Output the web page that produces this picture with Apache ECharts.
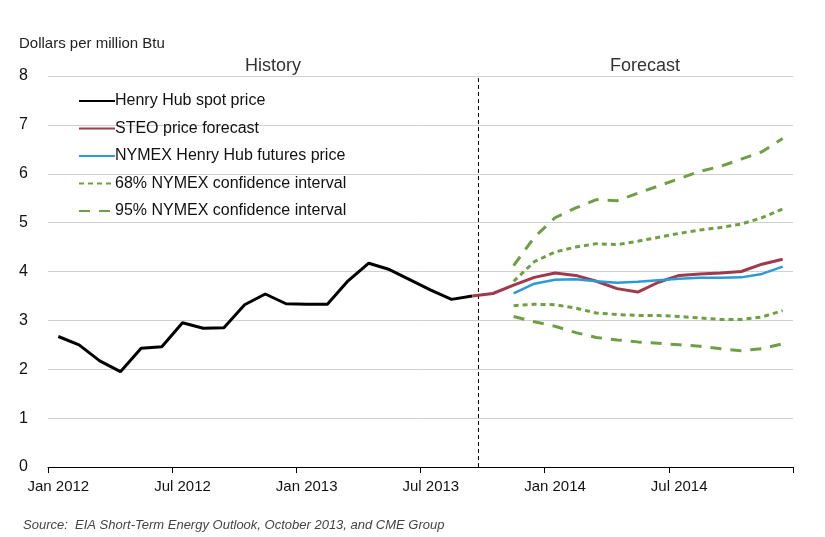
<!DOCTYPE html>
<html><head><meta charset="utf-8">
<script src="https://cdn.jsdelivr.net/npm/echarts@6/dist/echarts.min.js"></script>
<style>html,body{margin:0;background:#fff}#c{width:825px;height:537px}</style>
</head><body><div id="c"></div>
<script>
const months = [];
const mn = ['Jan','Feb','Mar','Apr','May','Jun','Jul','Aug','Sep','Oct','Nov','Dec'];
for (let y = 2012; y <= 2014; y++) for (let m = 0; m < 12; m++) months.push(mn[m] + ' ' + y);
const yTicks = [0,1,2,3,4,5,6,7,8];
const spot = [2.67,2.50,2.17,1.95,2.43,2.46,2.95,2.84,2.85,3.32,3.54,3.34,3.33,3.33,3.81,4.17,4.04,3.83,3.62,3.43,3.50];
const steo = [3.50,3.55,3.72,3.88,3.97,3.92,3.80,3.65,3.58,3.78,3.92,3.95,3.97,4.00,4.15,4.25];
const futures = [3.55,3.75,3.83,3.84,3.80,3.77,3.79,3.82,3.85,3.87,3.87,3.88,3.95,4.10];
const up68 = [3.80,4.20,4.40,4.50,4.57,4.55,4.62,4.70,4.78,4.85,4.90,4.97,5.10,5.28];
const lo68 = [3.30,3.33,3.32,3.25,3.15,3.12,3.10,3.10,3.08,3.05,3.02,3.02,3.07,3.20];
const up95 = [4.12,4.70,5.10,5.30,5.47,5.45,5.60,5.75,5.90,6.05,6.15,6.30,6.45,6.72];
const lo95 = [3.08,2.97,2.88,2.75,2.65,2.60,2.56,2.53,2.50,2.47,2.42,2.38,2.42,2.52];
const divider = [[20.8,0],[20.8,8]];

function pad(arr, start){ const o = new Array(months.length).fill('-'); arr.forEach((v,i)=>o[start+i]=v); return o; }
const GREEN = '#6f9f45';
const chart = echarts.init(document.getElementById('c'));
const line = (name, data, color, type, width) => ({name, type:'line', data, symbol:'none', xAxisIndex:0,
  lineStyle:{color, width, type}, itemStyle:{color}});
chart.setOption({
  animation:false,
  textStyle:{fontFamily:'Liberation Sans, Arial, sans-serif'},
  grid:{left:48, right:32, top:76, bottom:70},
  title:[
    {text:'Dollars per million Btu', left:14, top:31, textStyle:{fontSize:15, fontWeight:'normal', color:'#222'}},
    {text:'History', left:268, top:52, textAlign:'center', textStyle:{fontSize:18, fontWeight:'normal', color:'#333'}},
    {text:'Forecast', left:640, top:52, textAlign:'center', textStyle:{fontSize:18, fontWeight:'normal', color:'#333'}},
    {text:'Source:  EIA Short-Term Energy Outlook, October 2013, and CME Group', left:18, top:514, textStyle:{fontSize:13, fontWeight:'normal', fontStyle:'italic', color:'#444'}}
  ],
  legend:{orient:'vertical', left:73, top:88, itemGap:11.5, itemWidth:36, itemHeight:18,
    itemStyle:{opacity:0},
    textStyle:{fontSize:16, color:'#111', padding:[0,0,0,-5]},
    data:['Henry Hub spot price','STEO price forecast','NYMEX Henry Hub futures price','68% NYMEX confidence interval','95% NYMEX confidence interval']},
  xAxis:[
    {type:'category', data:months, boundaryGap:true,
     axisLine:{lineStyle:{color:'#000'}}, axisTick:{show:true, interval:5, length:6, lineStyle:{color:'#000'}},
     axisLabel:{interval:5, color:'#111', fontSize:15, margin:12}},
    {type:'value', min:0, max:36, show:false}
  ],
  yAxis:{type:'value', min:0, max:8, interval:1, axisLine:{show:false}, axisTick:{show:false},
    axisLabel:{color:'#111', fontSize:16, margin:20, formatter:v=>yTicks.includes(v)?String(v):''},
    splitLine:{lineStyle:{color:'#d0d0d0', width:1}}},
  series:[
    {type:'line', xAxisIndex:1, data:divider, symbol:'none', z:1,
     lineStyle:{color:'#000', type:[4,3], width:1}},
    line('Henry Hub spot price', pad(spot,0), '#000', 'solid', 3),
    line('STEO price forecast', pad(steo,20), '#9e3a4a', 'solid', 3),
    line('NYMEX Henry Hub futures price', pad(futures,22), '#2b9bd6', 'solid', 2.5),
    line('68% NYMEX confidence interval', pad(up68,22), GREEN, [5,4], 3),
    line('68% NYMEX confidence interval', pad(lo68,22), GREEN, [5,4], 3),
    line('95% NYMEX confidence interval', pad(up95,22), GREEN, [11,9], 3),
    line('95% NYMEX confidence interval', pad(lo95,22), GREEN, [11,9], 3)
  ]
});
</script></body></html>
